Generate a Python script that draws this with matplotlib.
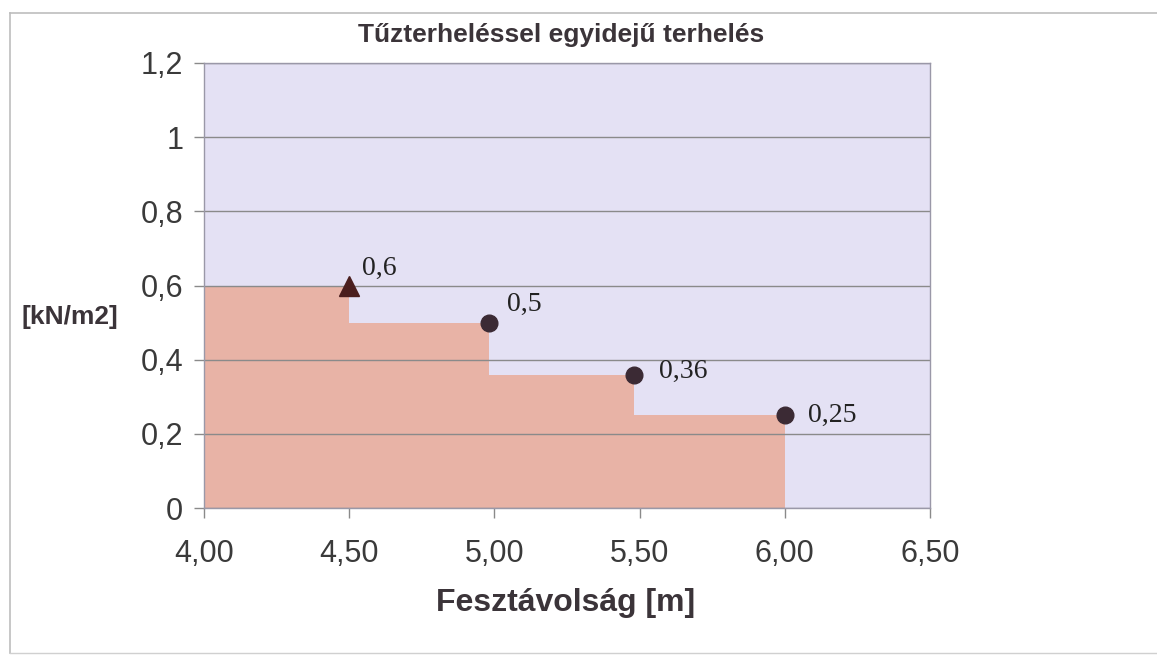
import matplotlib
matplotlib.use("Agg")
import matplotlib.pyplot as plt
from matplotlib.ticker import FuncFormatter

# Data
span_start = 4.00
spans = [4.50, 4.98, 5.48, 6.00]          # Fesztávolság [m]
loads = [0.6, 0.5, 0.36, 0.25]            # [kN/m2]
load_labels = ["0,6", "0,5", "0,36", "0,25"]
markers = ["^", "o", "o", "o"]

x_ticks = [4.00, 4.50, 5.00, 5.50, 6.00, 6.50]
y_ticks = [0, 0.2, 0.4, 0.6, 0.8, 1.0, 1.2]

TITLE = "Tűzterheléssel egyidejű terhelés"
XLABEL = "Fesztávolság [m]"
YLABEL = "[kN/m2]"

# Colours
PLOT_BG = "#e4e1f4"
AREA = "#e8b3a6"
MARK = "#3b2a34"
TRI = "#4a1e1e"
TEXT = "#3a3a3a"
GRID = "#8a8a8a"
LABEL_COL = "#3b3439"

# label offsets in points (text placement only)
label_offsets = [(9, 12), (13, 13), (18, 2), (17, 0)]

fig = plt.figure(figsize=(11.57, 6.55), dpi=100)
fig.patch.set_facecolor("white")

# outer chart frame (top, left, bottom lines)
fig.add_artist(plt.Line2D([10 / 1157, 1.0], [1 - 13 / 655] * 2,
                          transform=fig.transFigure, color="#bdbdbd", lw=1.2))
fig.add_artist(plt.Line2D([10 / 1157] * 2, [2 / 655, 1 - 13 / 655],
                          transform=fig.transFigure, color="#bdbdbd", lw=1.2))
fig.add_artist(plt.Line2D([10 / 1157, 1.0], [2 / 655] * 2,
                          transform=fig.transFigure, color="#d0d0d0", lw=1.0))

ax = fig.add_axes([204 / 1157, 1 - 508 / 655, 726 / 1157, 445 / 655])
ax.set_facecolor(PLOT_BG)

# stepped load area
xs = [span_start] + spans
ys = [loads[0]] + loads
ax.fill_between(xs, ys, 0, step="pre", color=AREA, lw=0, zorder=2)

# points with value labels
for x, y, lab, m, off in zip(spans, loads, load_labels, markers, label_offsets):
    if m == "^":
        ax.plot(x, y, marker="^", ms=14, color=TRI, zorder=5, clip_on=False)
    else:
        ax.plot(x, y, marker="o", ms=12, color=MARK, zorder=5, clip_on=False)
    ax.annotate(lab, (x, y), xytext=off, textcoords="offset points",
                fontsize=20, family="Liberation Serif", color="#222222",
                ha="left", va="center", zorder=6)

ax.set_xlim(4.0, 6.5)
ax.set_ylim(0, 1.2)
ax.set_xticks(x_ticks)
ax.set_yticks(y_ticks)
ax.xaxis.set_major_formatter(FuncFormatter(lambda v, p: f"{v:.2f}".replace(".", ",")))
ax.yaxis.set_major_formatter(FuncFormatter(lambda v, p: f"{v:g}".replace(".", ",")))

ax.grid(axis="y", color=GRID, lw=1.0, zorder=3)
ax.set_axisbelow(False)
for s in ax.spines.values():
    s.set_color("#9a98a8")
    s.set_linewidth(1.0)
    s.set_zorder(4)

ax.tick_params(axis="both", direction="out", length=7, width=1.0, color="#8a8a8a",
               labelsize=22, labelcolor=TEXT)
ax.tick_params(axis="y", pad=8)
ax.tick_params(axis="x", pad=15)
for lbl in ax.get_xticklabels() + ax.get_yticklabels():
    lbl.set_family("Liberation Sans")

fig.text(561 / 1157, 1 - 35 / 655, TITLE, ha="center", va="center",
         fontsize=19, fontweight="bold", family="Liberation Sans", color=LABEL_COL)
fig.text(566 / 1157, 1 - 603 / 655, XLABEL, ha="center", va="center",
         fontsize=23, fontweight="bold", family="Liberation Sans", color=LABEL_COL)
fig.text(70 / 1157, 1 - 317 / 655, YLABEL, ha="center", va="center",
         fontsize=19, fontweight="bold", family="Liberation Sans", color=LABEL_COL)

fig.savefig("out.png", dpi=100)
